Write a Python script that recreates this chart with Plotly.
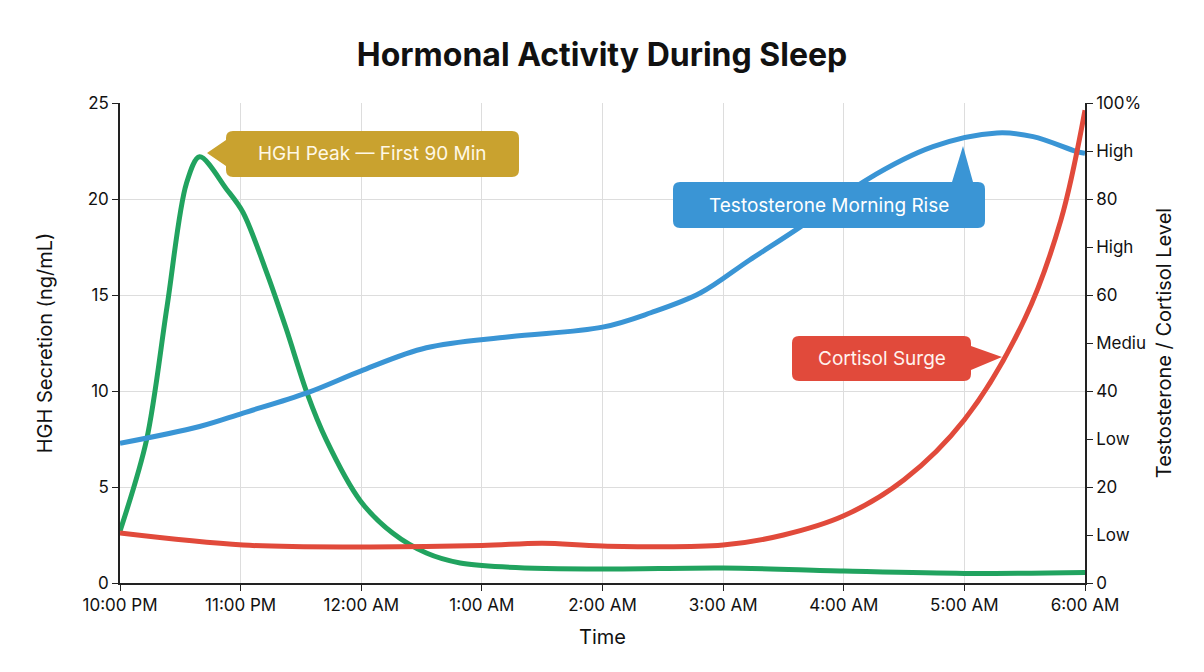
import plotly.graph_objects as go

# ---- data ----
hours = ["10:00 PM", "11:00 PM", "12:00 AM", "1:00 AM", "2:00 AM", "3:00 AM", "4:00 AM", "5:00 AM", "6:00 AM"]

hgh_x = [0, 0.22, 0.39, 0.55, 0.66, 0.885, 1.02, 1.22, 1.38, 1.55, 1.71, 1.99, 2.26, 2.54, 2.82, 3.2, 4.0, 5.0, 6.0, 7.0, 8.0]
hgh_y = [2.7, 7.45, 14.4, 20.8, 22.2, 20.5, 19.3, 16.1, 13.2, 9.9, 7.45, 4.3, 2.6, 1.56, 1.04, 0.83, 0.73, 0.78, 0.62, 0.5, 0.55]

testo_x = [0, 0.66, 1.02, 1.55, 2.02, 2.54, 3.23, 4.0, 4.4, 4.81, 5.22, 5.64, 6.19, 6.74, 7.27, 7.57, 7.93, 8.0]
testo_y = [29.1, 32.6, 35.4, 39.6, 44.4, 49.0, 51.3, 53.3, 56.3, 60.4, 67.3, 74.2, 84.0, 90.9, 93.75, 93.0, 89.9, 89.5]

cort_x = [0, 1.02, 2.0, 3.0, 3.5, 4.0, 5.0, 5.5, 6.0, 6.5, 7.0, 7.5, 7.8, 8.0]
cort_y = [10.4, 7.9, 7.5, 7.8, 8.3, 7.7, 7.9, 10.0, 14.0, 21.5, 34.0, 55.0, 75.6, 98.5]

right_ticks = [0, 10, 20, 30, 40, 50, 60, 70, 80, 90, 100]
right_labels = ["0", "Low", "20", "Low", "40", "Mediu", "60", "High", "80", "High", "100%"]

GREEN = "#21A35F"
BLUE = "#3A95D5"
RED = "#E14A3B"
GOLD = "#C9A22F"

W, H = 1204, 672
L, R, T, B = 120, 119, 103, 89
PW, PH = W - L - R, H - T - B

FONT = "Inter, Roboto, sans-serif"

fig = go.Figure()
fig.add_trace(go.Scatter(x=testo_x, y=testo_y, yaxis="y2", mode="lines",
                         line=dict(color=BLUE, width=5, shape="spline", smoothing=1.0),
                         name="Testosterone", hoverinfo="skip"))
fig.add_trace(go.Scatter(x=cort_x, y=cort_y, yaxis="y2", mode="lines",
                         line=dict(color=RED, width=5, shape="spline", smoothing=1.0),
                         name="Cortisol", hoverinfo="skip"))
fig.add_trace(go.Scatter(x=hgh_x, y=hgh_y, mode="lines",
                         line=dict(color=GREEN, width=5, shape="spline", smoothing=0.9),
                         name="HGH", hoverinfo="skip"))


def px(xp):
    return (xp - L) / PW


def py(yp):
    return (T + PH - yp) / PH


def bubble(x0, y0, x1, y1, tail, r=7):
    """Rounded rectangle with a triangular tail, pixel coords -> paper path."""
    side, a, b, tip = tail
    p = f"M{px(x0 + r)},{py(y0)} "
    if side == "top":
        p += f"L{px(a)},{py(y0)} L{px(tip[0])},{py(tip[1])} L{px(b)},{py(y0)} "
    p += f"L{px(x1 - r)},{py(y0)} Q{px(x1)},{py(y0)} {px(x1)},{py(y0 + r)} "
    if side == "right":
        p += f"L{px(x1)},{py(a)} L{px(tip[0])},{py(tip[1])} L{px(x1)},{py(b)} "
    p += f"L{px(x1)},{py(y1 - r)} Q{px(x1)},{py(y1)} {px(x1 - r)},{py(y1)} "
    p += f"L{px(x0 + r)},{py(y1)} Q{px(x0)},{py(y1)} {px(x0)},{py(y1 - r)} "
    if side == "left":
        p += f"L{px(x0)},{py(b)} L{px(tip[0])},{py(tip[1])} L{px(x0)},{py(a)} "
    p += f"L{px(x0)},{py(y0 + r)} Q{px(x0)},{py(y0)} {px(x0 + r)},{py(y0)} Z"
    return p


shapes = [
    dict(type="path", xref="paper", yref="paper", layer="above",
         path=bubble(226, 131, 519, 177, ("left", 140, 166, (207, 153))),
         fillcolor=GOLD, line=dict(width=0)),
    dict(type="path", xref="paper", yref="paper", layer="above",
         path=bubble(673, 182, 985, 228, ("top", 952, 973, (963, 146))),
         fillcolor=BLUE, line=dict(width=0)),
    dict(type="path", xref="paper", yref="paper", layer="above",
         path=bubble(792, 336, 971, 381, ("right", 346, 370, (1002, 357))),
         fillcolor=RED, line=dict(width=0)),
]

annotations = [
    dict(xref="paper", yref="paper", x=px((226 + 519) / 2), y=py(154), xanchor="center", yanchor="middle",
         text="HGH Peak — First 90 Min",
         showarrow=False, font=dict(family=FONT, size=19, color="#FFF8E6")),
    dict(xref="paper", yref="paper", x=px((673 + 985) / 2), y=py(205), xanchor="center", yanchor="middle",
         text="Testosterone Morning Rise",
         showarrow=False, font=dict(family=FONT, size=19, color="#FFFFFF")),
    dict(xref="paper", yref="paper", x=px((792 + 971) / 2), y=py(358), xanchor="center", yanchor="middle",
         text="Cortisol Surge",
         showarrow=False, font=dict(family=FONT, size=19, color="#FFF3EE")),
]

fig.update_layout(
    width=W, height=H,
    margin=dict(l=L, r=R, t=T, b=B),
    paper_bgcolor="white", plot_bgcolor="white",
    showlegend=False,
    font=dict(family=FONT, size=17, color="#111111"),
    title=dict(text="<b>Hormonal Activity During Sleep</b>", x=0.5, xanchor="center",
               y=1 - 55 / H, yanchor="middle", font=dict(family=FONT, size=32, color="#111111")),
    xaxis=dict(range=[0, 8], tickmode="array", tickvals=list(range(9)), ticktext=hours,
               showgrid=True, gridcolor="#DDDDDD", gridwidth=1,
               showline=True, linecolor="#222222", linewidth=1.5,
               ticks="outside", ticklen=6, tickcolor="#222222",
               title=dict(text="Time", font=dict(size=20), standoff=16),
               zeroline=False, fixedrange=True),
    yaxis=dict(range=[0, 25], tickvals=[0, 5, 10, 15, 20, 25],
               showgrid=True, gridcolor="#DDDDDD", gridwidth=1,
               showline=True, linecolor="#222222", linewidth=1.5,
               ticks="outside", ticklen=6, tickcolor="#222222",
               title=dict(text="HGH Secretion (ng/mL)", font=dict(size=20), standoff=30),
               zeroline=False, fixedrange=True),
    yaxis2=dict(range=[0, 100], overlaying="y", side="right", anchor="x",
                tickmode="array", tickvals=right_ticks, ticktext=right_labels,
                showgrid=False, showline=True, linecolor="#222222", linewidth=1.5,
                ticks="outside", ticklen=6, tickcolor="#222222",
                title=dict(text="Testosterone / Cortisol Level", font=dict(size=20), standoff=12),
                zeroline=False, fixedrange=True),
    shapes=shapes,
    annotations=annotations,
)

fig.write_html("out.html", config={"displayModeBar": False})
